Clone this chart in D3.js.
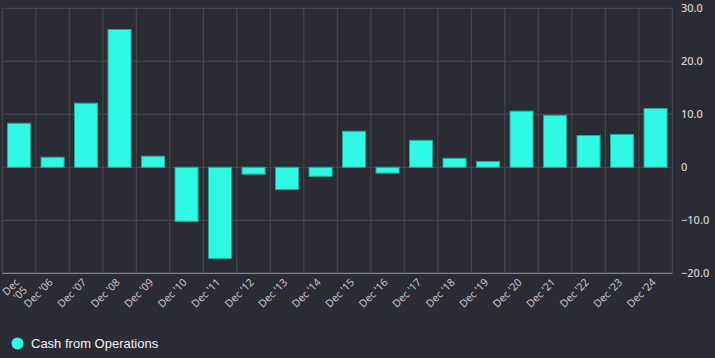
<!DOCTYPE html>
<html><head><meta charset="utf-8">
<script src="https://cdn.jsdelivr.net/npm/d3@7/dist/d3.min.js"></script>
<style>
html,body{margin:0;padding:0;background:#2b2b33;}
svg{display:block;}
</style></head>
<body>
<svg id="chart" width="715" height="358"></svg>
<script>
const categories = ["Dec '05","Dec '06","Dec '07","Dec '08","Dec '09","Dec '10","Dec '11","Dec '12","Dec '13","Dec '14","Dec '15","Dec '16","Dec '17","Dec '18","Dec '19","Dec '20","Dec '21","Dec '22","Dec '23","Dec '24"];
const cashFromOperations = [8.3,1.9,12.1,26.0,2.1,-10.2,-17.2,-1.3,-4.2,-1.7,6.8,-1.1,5.1,1.7,1.1,10.6,9.8,6.0,6.2,11.1];
const yTicks = [-20,-10,0,10,20,30];
const seriesName = "Cash from Operations";

const svg = d3.select("#chart");
const L = 2.3, R = 672.3, T = 8.3, B = 273.3;

const x = d3.scaleBand().domain(categories).range([L, R]).paddingInner(0.31).paddingOuter(0.155);
const xb = d3.scaleBand().domain(categories).range([L, R]);
const y = d3.scaleLinear().domain([-20, 30]).range([B, T]);

const grid = svg.append("g");
grid.selectAll("line.h").data(yTicks.filter(d => d > -20)).enter().append("line")
  .attr("x1", L).attr("x2", R)
  .attr("y1", d => y(d)).attr("y2", d => y(d))
  .attr("stroke", "#4a4a53").attr("stroke-width", 1);
const bounds = categories.map(c => xb(c));
grid.selectAll("line.v").data(bounds).enter().append("line")
  .attr("x1", d => d).attr("x2", d => d)
  .attr("y1", T).attr("y2", B)
  .attr("stroke", "#4a4a53").attr("stroke-width", 1);
grid.append("line").attr("x1", R).attr("x2", R).attr("y1", T).attr("y2", B)
  .attr("stroke", "#4a4a53");

svg.append("g").selectAll("rect").data(cashFromOperations).enter().append("rect")
  .attr("x", (d, i) => x(categories[i]))
  .attr("width", x.bandwidth())
  .attr("y", d => y(Math.max(0, d)))
  .attr("height", d => Math.abs(y(d) - y(0)))
  .attr("fill", "#2ff8e4")
  .attr("stroke", "#22a89c")
  .attr("stroke-width", 1);

svg.append("line").attr("x1", L).attr("x2", R).attr("y1", B).attr("y2", B)
  .attr("stroke", "#9a9aa3").attr("stroke-width", 1);

const yAxis = d3.axisRight(y).tickValues(yTicks).tickSize(0).tickPadding(0)
  .tickFormat(d => d === 0 ? "0" : d3.format(".1f")(d));
const ya = svg.append("g").attr("transform", `translate(${681},0)`).call(yAxis);
ya.select(".domain").remove();
ya.selectAll("text").attr("fill", "#d4d4d8").attr("font-family", "Noto Sans, sans-serif")
  .attr("font-size", 11).attr("font-weight", 500);

const xl = svg.append("g");
categories.forEach((c, i) => {
  const cx = xb(c) + xb.bandwidth() / 2 + 1;
  const t = xl.append("text")
    .attr("transform", `translate(${cx},${283}) rotate(-45)`)
    .attr("text-anchor", "end")
    .attr("fill", "#c8c8cc")
    .attr("font-family", "Noto Sans, sans-serif")
    .attr("font-size", 10.5);
  if (i === 0) {
    const parts = c.split(" ");
    t.append("tspan").attr("x", 0).attr("dy", "0em").text(parts[0]);
    t.append("tspan").attr("x", 0).attr("dy", "1.05em").text(parts[1]);
  } else {
    t.text(c);
  }
});

svg.append("circle").attr("cx", 17.5).attr("cy", 343.5).attr("r", 6).attr("fill", "#2ff8e4");
svg.append("text").attr("x", 31).attr("y", 348).attr("fill", "#f2f2f4")
  .attr("font-family", "Liberation Sans, Arial, sans-serif").attr("font-size", 13)
  .text(seriesName);
</script>
</body></html>
